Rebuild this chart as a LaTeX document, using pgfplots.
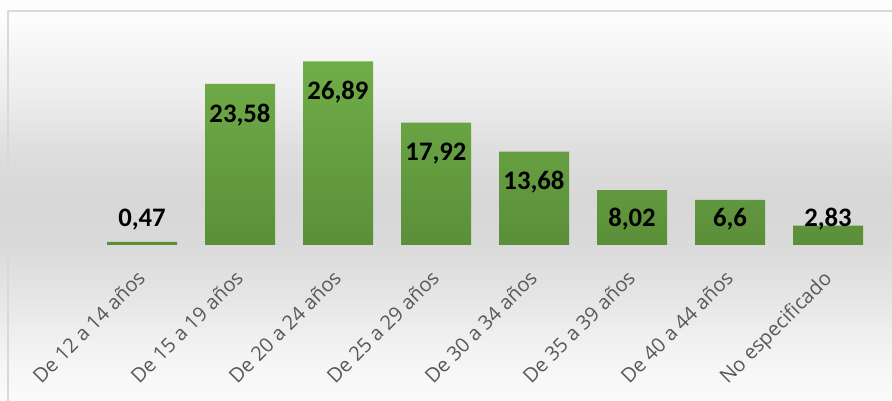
\documentclass[border=0pt]{standalone}
\usepackage{fontspec}
\setmainfont{Carlito}
\newfontfamily\lblfont{Open Sans}
\usepackage{pgfplots}
\pgfplotsset{compat=1.18}
\definecolor{barTop}{HTML}{70AD47}
\definecolor{barBot}{HTML}{5B8F3A}
\definecolor{lblgray}{HTML}{595959}
\definecolor{frame}{HTML}{D9D9D9}
\definecolor{bgA}{HTML}{FBFBFB}
\definecolor{bgB}{HTML}{F3F3F3}
\definecolor{bgC}{HTML}{E6E6E6}
\definecolor{bgD}{HTML}{DADADA}
\definecolor{bgE}{HTML}{D7D7D7}
\definecolor{bgF}{HTML}{DEDEDE}
\definecolor{bgG}{HTML}{ECECEC}
\definecolor{bgH}{HTML}{FCFCFC}
\definecolor{bgI}{HTML}{FDFDFD}
\pgfdeclareverticalshading{chartbg}{100bp}{color(0bp)=(bgA); color(25bp)=(bgA); color(31.4bp)=(bgB); color(37.6bp)=(bgC); color(44.5bp)=(bgD); color(50.1bp)=(bgE); color(56.3bp)=(bgF); color(62.5bp)=(bgG); color(72.5bp)=(bgH); color(75bp)=(bgI); color(100bp)=(bgI)}
\begin{document}
\begin{tikzpicture}
\useasboundingbox (0pt,-156pt) rectangle (892pt,245pt);
\shade[shading=chartbg] (0pt,-156pt) rectangle (892pt,245pt);
\draw[frame, line width=1.2pt] (8pt,-160pt) -- (8pt,234pt) -- (900pt,234pt);
\begin{axis}[
  at={(0pt,0pt)}, anchor=south west,
  scale only axis,
  width=892pt, height=245pt,
  xmin=-1.449, xmax=7.653,
  ymin=0, ymax=35.87,
  axis line style={draw=none},
  tick style={draw=none},
  ytick=\empty,
  xtick={0,1,2,3,4,5,6,7},
  xticklabels={De 12 a 14 años,De 15 a 19 años,De 20 a 24 años,De 25 a 29 años,De 30 a 34 años,De 35 a 39 años,De 40 a 44 años,No especificado},
  xticklabel style={font=\lblfont\fontsize{20}{24}\selectfont, text=lblgray, inner sep=0pt, xshift=-6pt, yshift=-24pt, rotate=45, anchor=north east},
  clip=false,
]
\addplot[ybar, bar width=70pt, bar shift=0pt, draw=none, top color=barTop, bottom color=barBot]
  coordinates {(0,0.47) (1,23.58) (2,26.89) (3,17.92) (4,13.68) (5,8.02) (6,6.6) (7,2.83)};
\addplot[draw=none, mark=none, nodes near coords, point meta=explicit symbolic,
  every node near coord/.append style={font=\bfseries\fontsize{26.7}{30}\selectfont, text=black, inner sep=0pt, text depth=0pt}]
  table[meta=lab] {
x y lab
0 2.65 0,47
1 17.89 23,58
2 21.33 26,89
3 12.30 17,92
4 8.16 13,68
5 2.75 8,02
6 2.75 6,6
7 2.75 2,83
};
\end{axis}
\end{tikzpicture}
\end{document}
